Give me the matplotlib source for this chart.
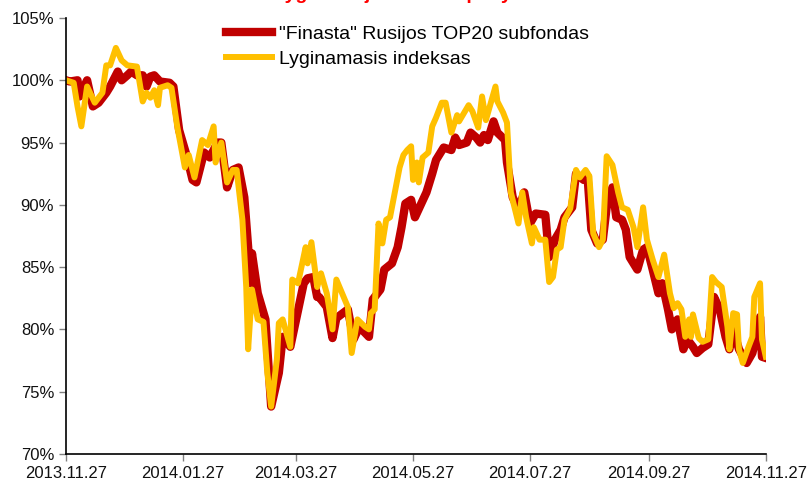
import matplotlib
matplotlib.use("Agg")
import matplotlib.pyplot as plt
import matplotlib.dates as mdates
import pandas as pd

plt.rcParams['font.family'] = ['Liberation Sans', 'DejaVu Sans']

start = pd.Timestamp("2013-11-27")

# days since 2013.11.27 and value (%)
fund_days = [0, 2, 6, 7, 11, 14, 17, 21, 23, 27, 29, 32, 34, 37, 40, 42, 44, 46, 49, 54,
             56, 59, 63, 66, 68, 72, 75, 79, 81, 84, 87, 90, 93, 95, 96, 97, 100, 104, 107, 111,
             113, 117, 120, 124, 126, 129, 131, 132, 136, 139, 141, 147, 150, 153, 158, 160, 164, 166, 170, 173,
             175, 177, 180, 182, 185, 188, 191, 193, 197, 201, 203, 205, 209, 211, 214, 216, 218, 220, 223, 225,
             229, 230, 233, 236, 239, 242, 245, 250, 252, 255, 258, 260, 264, 266, 270, 272, 274, 277, 280, 282,
             285, 287, 290, 292, 294, 298, 301, 303, 306, 309, 311, 314, 316, 319, 322, 324, 327, 329, 332, 335,
             338, 341, 344, 346, 348, 351, 355, 358, 361, 362, 363, 365]
fund_vals = [100.0, 99.9, 100.0, 98.7, 100.0, 97.9, 98.2, 99.0, 99.5, 100.7, 100.0, 100.4, 100.7, 100.4, 100.4, 99.5, 100.3, 100.4, 99.9, 99.8,
             99.5, 96.0, 93.9, 92.0, 91.8, 94.2, 93.8, 95.0, 95.0, 91.4, 92.8, 93.0, 90.6, 86.6, 83.7, 86.1, 82.9, 80.8, 73.8, 76.5,
             79.4, 78.6, 80.8, 83.7, 84.1, 84.2, 82.6, 82.6, 81.8, 79.3, 80.9, 81.6, 79.2, 80.2, 79.4, 82.4, 83.2, 84.8, 85.3, 86.6,
             88.2, 90.1, 90.4, 89.0, 90.0, 91.0, 92.5, 93.6, 94.6, 94.4, 95.4, 94.8, 95.0, 95.8, 95.4, 95.0, 95.6, 95.2, 96.7, 95.8,
             95.2, 93.4, 90.6, 89.6, 91.0, 88.5, 89.3, 89.2, 85.8, 87.2, 88.0, 89.0, 89.8, 92.5, 92.0, 92.3, 88.0, 86.9, 87.2, 89.8,
             91.4, 89.0, 88.8, 88.0, 85.8, 84.8, 86.4, 86.6, 84.8, 82.9, 83.7, 81.6, 80.0, 80.8, 78.4, 79.2, 78.6, 78.1, 78.5, 78.8,
             82.6, 81.6, 79.4, 78.4, 80.0, 78.4, 77.3, 78.1, 80.0, 81.0, 77.8, 77.7]

index_days = [0, 4, 6, 8, 10, 11, 15, 19, 21, 23, 26, 29, 32, 37, 40, 42, 44, 46, 48, 49,
              53, 55, 58, 62, 64, 67, 71, 74, 77, 78, 81, 84, 87, 89, 92, 94, 95, 97, 100, 103,
              105, 107, 110, 111, 113, 117, 118, 121, 125, 126, 128, 131, 133, 136, 139, 141, 144, 147, 149, 152,
              156, 158, 159, 161, 163, 165, 167, 169, 171, 174, 176, 178, 180, 181, 183, 184, 186, 189, 191, 193,
              196, 198, 201, 204, 205, 210, 212, 215, 217, 219, 224, 225, 228, 230, 232, 236, 238, 240, 243, 244,
              247, 250, 252, 254, 256, 258, 260, 263, 266, 268, 271, 273, 275, 278, 280, 282, 285, 288, 290, 293,
              296, 298, 301, 303, 306, 309, 312, 315, 317, 319, 321, 323, 325, 326, 327, 330, 332, 335, 337, 339,
              342, 345, 346, 348, 350, 351, 353, 356, 358, 359, 362, 363, 365]
index_vals = [100.0, 99.8, 97.9, 96.3, 98.4, 99.5, 98.2, 99.0, 101.2, 101.2, 102.6, 101.6, 101.2, 101.1, 98.3, 99.0, 98.6, 99.2, 98.0, 99.4,
              99.6, 99.4, 96.3, 93.0, 94.0, 92.2, 95.2, 94.8, 96.3, 93.4, 95.0, 91.8, 92.8, 92.8, 88.8, 83.4, 78.4, 83.2, 80.8, 80.6,
              76.5, 73.8, 77.6, 80.5, 80.8, 78.6, 84.0, 83.7, 86.6, 85.3, 87.0, 83.4, 84.5, 82.9, 80.0, 84.0, 82.9, 81.8, 78.1, 80.8,
              80.2, 80.0, 81.3, 81.6, 88.5, 86.9, 88.8, 89.0, 90.6, 93.0, 94.0, 94.4, 94.7, 92.0, 93.4, 91.8, 93.8, 94.2, 96.3, 97.0,
              98.2, 98.2, 95.8, 97.2, 96.7, 98.0, 97.5, 96.2, 98.7, 96.8, 99.5, 98.3, 97.4, 96.6, 91.0, 88.5, 91.0, 89.0, 86.9, 88.2,
              87.2, 87.2, 83.8, 84.2, 86.4, 86.6, 88.8, 89.7, 92.8, 92.2, 92.8, 92.3, 87.7, 86.6, 87.2, 93.9, 93.2, 91.0, 89.8, 89.6,
              88.2, 86.6, 89.8, 87.2, 85.6, 84.2, 86.0, 82.9, 81.7, 82.1, 81.6, 79.4, 80.8, 79.4, 81.2, 79.3, 79.0, 79.2, 84.2, 83.8,
              83.4, 80.2, 78.4, 81.3, 81.2, 78.4, 77.3, 78.6, 79.4, 82.6, 83.7, 79.2, 77.8]

fund_dates = [start + pd.Timedelta(days=d) for d in fund_days]
index_dates = [start + pd.Timedelta(days=d) for d in index_days]

tick_dates = ["2013-11-27", "2014-01-27", "2014-03-27", "2014-05-27",
              "2014-07-27", "2014-09-27", "2014-11-27"]
yticks = [70, 75, 80, 85, 90, 95, 100, 105]

fig = plt.figure(figsize=(8.09, 4.87), dpi=100)
ax = fig.add_axes([0.0816, 0.068, 0.865, 0.895])

ax.plot(fund_dates, fund_vals, color='#C00000', lw=6, solid_joinstyle='round',
        label='"Finasta" Rusijos TOP20 subfondas')
ax.plot(index_dates, index_vals, color='#FFC000', lw=4.3, solid_joinstyle='round',
        label='Lyginamasis indeksas')

ax.set_ylim(70, 105)
ax.set_yticks(yticks)
ax.set_yticklabels([f"{v}%" for v in yticks])
ax.set_xlim(pd.Timestamp(tick_dates[0]), pd.Timestamp(tick_dates[-1]))
ax.set_xticks([pd.Timestamp(t) for t in tick_dates])
ax.xaxis.set_major_formatter(mdates.DateFormatter('%Y.%m.%d'))

for s in ['top', 'right']:
    ax.spines[s].set_visible(False)
for s in ['left', 'bottom']:
    ax.spines[s].set_linewidth(1.2)
ax.tick_params(axis='both', direction='out', length=5, width=1, color='#808080',
               labelsize=12, labelcolor='#111111')
ax.tick_params(axis='x', pad=4)

fig.legend(loc='upper left', bbox_to_anchor=(0.279, 0.948), frameon=False,
           fontsize=14, handlelength=2.4, handletextpad=0.35, labelspacing=0.38,
           borderpad=0, borderaxespad=0)

# title cut off at the top edge of the image
fig.text(0.452, 1.003, "Fondo ir lyginamojo indekso pokytis", color='#FF0000',
         fontsize=14, fontweight='bold', ha='center', va='baseline')

fig.savefig("out.png", dpi=100)
